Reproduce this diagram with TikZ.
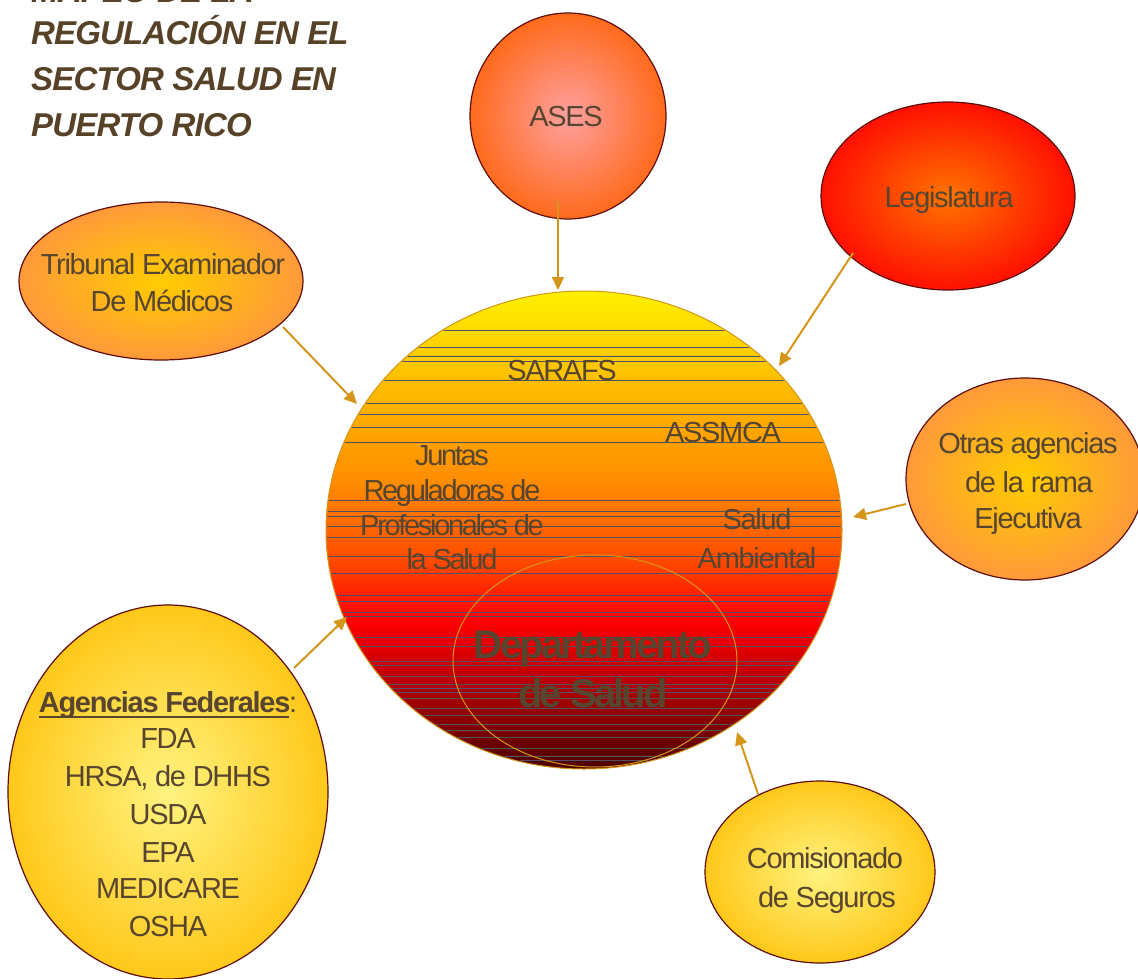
\documentclass[tikz,border=0pt]{standalone}
\usepackage{fontspec}
\setmainfont{Liberation Sans}
\newfontfamily\labfont[LetterSpace=-4.5]{Liberation Sans}
\newfontfamily\jfont[LetterSpace=-8]{Liberation Sans}
\newfontfamily\titfont[LetterSpace=-2.5]{Liberation Sans}
\newfontfamily\depfont[LetterSpace=-7]{Liberation Sans}
\usetikzlibrary{shapes.geometric,arrows.meta}
\definecolor{txt}{HTML}{574530}
\definecolor{titc}{HTML}{574227}
\definecolor{arrowc}{HTML}{D4961A}
\definecolor{maroon}{HTML}{5C0E0E}
\definecolor{linec}{HTML}{50505E}
\definecolor{sc0}{HTML}{4A0000}
\definecolor{sc1}{HTML}{A00000}
\definecolor{sc2}{HTML}{FF0000}
\definecolor{sc3}{HTML}{FF4A00}
\definecolor{sc4}{HTML}{FF8C00}
\definecolor{sc5}{HTML}{FFBE00}
\definecolor{sc6}{HTML}{FFF000}
\definecolor{asesIn}{HTML}{FFA0A0}
\definecolor{asesOut}{HTML}{FF6A1C}
\definecolor{legIn}{HTML}{FF7400}
\definecolor{legOut}{HTML}{FF1000}
\definecolor{orIn}{HTML}{FFCC00}
\definecolor{orOut}{HTML}{FF9A3A}
\definecolor{yeIn}{HTML}{FFF380}
\definecolor{yeOut}{HTML}{FFC81A}
\pgfdeclareverticalshading{sunshade}{100bp}{color(0bp)=(sc0); color(25bp)=(sc0); color(32bp)=(sc1); color(40.5bp)=(sc2); color(46.8bp)=(sc3); color(55bp)=(sc4); color(65.6bp)=(sc5); color(75bp)=(sc6); color(100bp)=(sc6)}
\newcommand\myul[1]{\setbox0\hbox{#1}\rlap{\rule[-6pt]{\wd0}{2pt}}\box0}
\begin{document}
\begin{tikzpicture}[x=1pt,y=-1pt,
  lab/.style={text=txt, font=\labfont\fontsize{29}{35}\selectfont, inner sep=0pt, anchor=base},
  jlab/.style={lab, font=\jfont\fontsize{29}{35}\selectfont},
  tit/.style={text=titc, font=\titfont\bfseries\itshape\fontsize{33}{38}\selectfont, inner sep=0pt, anchor=base west},
  dep/.style={text=txt, font=\depfont\bfseries\fontsize{40}{46}\selectfont, inner sep=0pt, anchor=base},
  bub/.style={ellipse, draw=maroon, line width=1.2pt, inner sep=0pt, shading=radial},
  arr/.style={draw=arrowc, line width=2pt, -{Triangle[length=13pt,width=12pt]}},
  hline/.style={draw=linec, line width=0.7pt}
]
\useasboundingbox (0,0) rectangle (1138,979);

% title
\node[tit] (t0) at (31,3) {MAPEO DE LA};
\node[tit] (t1) at (31,45) {REGULACIÓN EN EL};
\node[tit] (t2) at (31,90.5) {SECTOR SALUD EN};
\node[tit] (t3) at (31,136.5) {PUERTO RICO};

% central circle
\node[ellipse, minimum width=516pt, minimum height=478pt, shading=sunshade, draw=arrowc, line width=1pt, inner sep=0pt] (main) at (584,530) {};
\begin{scope}
\clip (main.center) ellipse [x radius=257pt, y radius=238pt];
\foreach \yy in {330,347,356,361,380,403,414,427,442,500,511,516,526,537,556,573,595,601,612,616,637,646,661,665,676,684,688,692,698,708,715,724,730,737,748,756,760}
  \draw[hline] (320,\yy) -- (850,\yy);
\end{scope}
\node[ellipse, draw=arrowc, line width=1pt, minimum width=284pt, minimum height=212pt, inner sep=0pt] (dept) at (595,661) {};

\node[lab] (sarafs) at (562,380) {SARAFS};
\node[lab] (assmca) at (723,442) {ASSMCA};
\node[jlab] (jun1) at (452,465) {Juntas};
\node[jlab] (jun2) at (452,500) {Reguladoras de};
\node[jlab] (jun3) at (452,535) {Profesionales de};
\node[jlab] (jun4) at (452,569) {la Salud};
\node[lab] (amb1) at (757,529) {Salud};
\node[lab] (amb2) at (757,568) {Ambiental};
\node[dep] (dep1) at (593,658) {Departamento};
\node[dep] (dep2) at (593,707) {de Salud};

% outer bubbles
\node[bub, inner color=asesIn, outer color=asesOut, minimum width=196pt, minimum height=206pt] (ases) at (568,116) {};
\node[lab] (asesT) at (566,127) {ASES};

\node[bub, inner color=legIn, outer color=legOut, minimum width=254pt, minimum height=188pt] (legis) at (948,196) {};
\node[lab] (legisT) at (949,207) {Legislatura};

\node[bub, inner color=orIn, outer color=orOut, minimum width=284pt, minimum height=158pt] (trib) at (161,281) {};
\node[lab] (trib1) at (163,274) {Tribunal Examinador};
\node[lab] (trib2) at (162,311) {De Médicos};

\node[bub, inner color=orIn, outer color=orOut, minimum width=238pt, minimum height=202pt] (otras) at (1025,479) {};
\node[lab] (otras1) at (1028,453) {Otras agencias};
\node[lab] (otras2) at (1029,492) {de la rama};
\node[lab] (otras3) at (1028,528) {Ejecutiva};

\node[bub, inner color=yeIn, outer color=yeOut, minimum width=320pt, minimum height=374pt] (fed) at (168,792) {};
\node[lab] (fed0) at (168,712) {\myul{\textbf{Agencias Federales}}:};
\node[lab] (fed1) at (168,748) {FDA};
\node[lab] (fed2) at (168,786) {HRSA, de DHHS};
\node[lab] (fed3) at (168,824) {USDA};
\node[lab] (fed4) at (168,862) {EPA};
\node[lab] (fed5) at (168,898) {MEDICARE};
\node[lab] (fed6) at (168,936) {OSHA};

\node[bub, inner color=yeIn, outer color=yeOut, minimum width=230pt, minimum height=182pt] (comis) at (820,872) {};
\node[lab] (comis1) at (825,868) {Comisionado};
\node[lab] (comis2) at (827,907) {de Seguros};

% connector ends
\coordinate (asesOutP) at (558,201);
\coordinate (asesInP) at (558,290);
\coordinate (legisOutP) at (853,253);
\coordinate (legisInP) at (779,366);
\coordinate (tribOutP) at (283,327);
\coordinate (tribInP) at (357,404);
\coordinate (otrasOutP) at (906,504);
\coordinate (otrasInP) at (853,517);
\coordinate (fedOutP) at (294,668);
\coordinate (fedInP) at (347,617);
\coordinate (comisOutP) at (758,794);
\coordinate (comisInP) at (737,732);

\draw[arr] (asesOutP) -- (asesInP);
\draw[arr] (legisOutP) -- (legisInP);
\draw[arr] (tribOutP) -- (tribInP);
\draw[arr] (otrasOutP) -- (otrasInP);
\draw[arr] (fedOutP) -- (fedInP);
\draw[arr] (comisOutP) -- (comisInP);
\end{tikzpicture}
\end{document}
